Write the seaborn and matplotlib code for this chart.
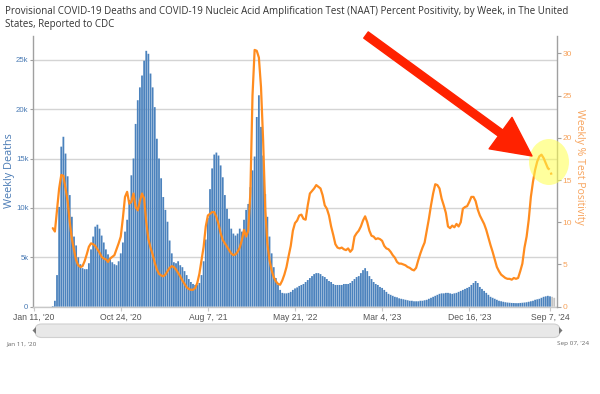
import numpy as np
import pandas as pd
import matplotlib
matplotlib.use("Agg")
import matplotlib.pyplot as plt
import seaborn as sns
from matplotlib.patches import FancyArrowPatch, Ellipse, FancyBboxPatch, Polygon
from matplotlib.transforms import IdentityTransform

# ---------------- data ----------------
start_date = pd.Timestamp("2020-01-11")

# weekly COVID-19 deaths (thousands), weeks from Jan 11 2020
weekly_deaths_k = [
    0, 0, 0, 0, 0, 0, 0, 0, 0, 0.06,
    0.6, 3.2, 10.1, 16.2, 17.2, 15.5, 13.2, 11.3, 9.1, 7.1,
    6.2, 5.0, 4.3, 3.9, 3.8, 3.8, 4.4, 5.8, 7.1, 8.1,
    8.3, 7.9, 7.2, 6.5, 5.8, 5.3, 4.9, 4.5, 4.3, 4.2,
    4.6, 5.4, 6.5, 7.6, 8.8, 10.8, 13.3, 15.0, 18.5, 20.9,
    22.2, 23.4, 24.9, 25.9, 25.6, 23.6, 22.2, 20.2, 17.0, 15.0,
    13.0, 11.1, 9.8, 8.6, 6.7, 5.4, 4.5, 4.4, 4.6, 4.2,
    4.0, 3.6, 3.2, 2.8, 2.5, 2.3, 2.2, 2.2, 2.4, 3.2,
    4.6, 6.8, 9.0, 11.9, 14.0, 15.4, 15.6, 15.3, 14.3, 13.1,
    11.3, 9.9, 8.9, 7.9, 7.4, 7.2, 7.4, 7.9, 7.6, 8.8,
    9.8, 10.4, 12.1, 13.8, 15.2, 19.2, 21.4, 18.2, 15.3, 11.4,
    9.1, 7.1, 5.4, 4.0, 2.9, 2.2, 1.7, 1.4, 1.35, 1.35,
    1.4, 1.5, 1.7, 1.85, 1.95, 2.1, 2.2, 2.3, 2.5, 2.7,
    2.9, 3.1, 3.3, 3.4, 3.4, 3.3, 3.1, 3.0, 2.8, 2.6,
    2.5, 2.3, 2.2, 2.2, 2.2, 2.2, 2.3, 2.3, 2.3, 2.4,
    2.6, 2.8, 3.0, 3.1, 3.4, 3.7, 3.9, 3.6, 3.1, 2.8,
    2.5, 2.3, 2.2, 2.0, 1.9, 1.7, 1.5, 1.3, 1.2, 1.1,
    1.0, 0.95, 0.85, 0.8, 0.75, 0.7, 0.65, 0.6, 0.6, 0.55,
    0.55, 0.55, 0.6, 0.6, 0.65, 0.7, 0.8, 0.9, 1.0, 1.1,
    1.2, 1.3, 1.35, 1.35, 1.4, 1.4, 1.35, 1.3, 1.35, 1.4,
    1.5, 1.6, 1.7, 1.8, 1.9, 2.0, 2.2, 2.4, 2.6, 2.4,
    2.0, 1.8, 1.6, 1.4, 1.2, 1.0, 0.9, 0.8, 0.7, 0.6,
    0.55, 0.5, 0.45, 0.42, 0.4, 0.38, 0.37, 0.36, 0.36, 0.38,
    0.4, 0.42, 0.45, 0.5, 0.55, 0.6, 0.7, 0.75, 0.8, 0.9,
    1.0, 1.05, 1.1, 1.05, 1.0, 0.9,
]
n_incomplete = 2  # last weeks shown in grey (incomplete)

# weekly NAAT % test positivity, starting at week index 9
positivity_start_week = 9
weekly_positivity = [
    9.3, 8.9, 11.5, 14.0, 15.6, 15.5, 14.0, 12.5, 10.0, 8.0,
    6.7, 5.5, 4.9, 4.7, 4.8, 5.4, 6.2, 7.1, 7.5, 7.4,
    7.2, 6.8, 6.4, 5.9, 5.7, 5.6, 5.3, 5.7, 5.9, 6.1,
    6.8, 7.5, 8.3, 10.5, 13.0, 13.6, 12.2, 12.4, 13.4, 11.8,
    11.4, 12.5, 13.4, 12.8, 10.0, 8.0, 7.0, 6.2, 5.2, 4.4,
    3.9, 3.7, 3.6, 3.8, 4.2, 4.6, 4.8, 4.7, 4.4, 4.0,
    3.6, 3.1, 2.7, 2.3, 2.1, 2.0, 2.0, 2.2, 2.8, 3.9,
    5.5, 7.1, 9.5, 10.8, 11.0, 11.2, 11.2, 10.6, 9.8, 8.7,
    7.9, 7.5, 7.1, 6.7, 6.3, 6.1, 6.2, 6.5, 7.0, 7.9,
    9.1, 8.3, 9.0, 13.5, 25.0, 30.4, 30.3, 29.5, 26.0, 19.7,
    11.5, 7.5, 5.5, 4.3, 3.5, 3.0, 2.7, 2.6, 3.1, 3.8,
    4.7, 6.0, 7.2, 9.0, 9.9, 10.2, 10.8, 10.9, 10.4, 10.3,
    12.0, 13.4, 13.7, 14.0, 14.4, 14.2, 14.0, 13.2, 12.0, 11.6,
    10.8, 9.5, 8.5, 7.4, 7.0, 6.9, 7.0, 6.8, 6.7, 6.9,
    6.5, 6.8, 8.3, 8.7, 9.0, 9.5, 10.2, 10.7, 10.0, 9.0,
    8.4, 8.3, 8.0, 8.1, 8.0, 7.8, 7.2, 6.9, 6.8, 6.5,
    6.1, 5.8, 5.3, 5.1, 5.1, 5.0, 4.9, 4.7, 4.6, 4.4,
    4.3, 4.6, 5.5, 6.3, 7.0, 7.6, 9.0, 10.4, 12.0, 13.4,
    14.5, 14.4, 14.0, 12.8, 12.0, 11.1, 9.5, 9.3, 9.6, 9.4,
    9.8, 9.5, 10.0, 11.6, 11.8, 11.9, 12.4, 13.0, 13.0, 12.5,
    11.5, 10.8, 10.3, 9.8, 9.1, 8.2, 7.3, 6.5, 5.6, 4.7,
    4.2, 3.8, 3.6, 3.4, 3.3, 3.3, 3.2, 3.4, 3.3, 3.4,
    4.2, 5.1, 7.0, 8.3, 10.3, 13.0, 14.8, 16.2, 17.2, 17.8,
    18.0, 17.6, 17.0, 16.4, 16.2, 15.4,
]
n_dotted = 2  # last segments dotted

tick_dates = ["2020-01-11", "2020-10-24", "2021-08-07", "2022-05-21",
              "2023-03-04", "2023-12-16", "2024-09-07"]
tick_labels = ["Jan 11, '20", "Oct 24, '20", "Aug 7, '21", "May 21, '22",
               "Mar 4, '23", "Dec 16, '23", "Sep 7, '24"]
left_ticks = [0, 5, 10, 15, 20, 25]
left_tick_labels = ["0", "5k", "10k", "15k", "20k", "25k"]
right_ticks = [0, 5, 10, 15, 20, 25, 30]

title = ("Provisional COVID-19 Deaths and COVID-19 Nucleic Acid Amplification Test (NAAT) "
         "Percent Positivity, by Week, in The United\nStates, Reported to CDC")

# ---------------- frames ----------------
n_w = len(weekly_deaths_k)
deaths_df = pd.DataFrame({
    "week": np.arange(n_w),
    "deaths": np.array(weekly_deaths_k) * 1000,
    "status": ["complete"] * (n_w - n_incomplete) + ["incomplete"] * n_incomplete,
})
pos_df = pd.DataFrame({
    "week": np.arange(len(weekly_positivity)) + positivity_start_week,
    "pos": weekly_positivity,
})
tick_weeks = [(pd.Timestamp(d) - start_date).days / 7 for d in tick_dates]

# ---------------- style ----------------
sns.set_theme(style="white")
plt.rcParams["font.family"] = ["Open Sans", "DejaVu Sans"]

BLUE = "#4b82bd"
BLUE_TXT = "#4a7bb5"
ORANGE = "#ff8c1f"
ORANGE_TXT = "#f7a35c"
GREY_AX = "#a0a0a0"
TICK_FONT = "Liberation Sans"

W, H = 600, 394
fig = plt.figure(figsize=(W / 100, H / 100), dpi=100)
fig.patch.set_facecolor("white")

ax_l, ax_r, ax_t, ax_b = 33, 557, 36, 306.7
ax = fig.add_axes([ax_l / W, 1 - ax_b / H, (ax_r - ax_l) / W, (ax_b - ax_t) / H])
ax.set_facecolor("white")

sns.barplot(data=deaths_df, x="week", y="deaths", hue="status",
            palette={"complete": BLUE, "incomplete": "#c4c4c4"},
            native_scale=True, dodge=False, legend=False, width=0.84,
            saturation=1, errorbar=None, edgecolor="none", linewidth=0, ax=ax)
for p in ax.patches:
    p.set_snap(False)

ax.set_xlim(-0.3, 246.3)
ax.set_ylim(0, 27400)
ax.set_yticks([v * 1000 for v in left_ticks])
ax.set_yticklabels(left_tick_labels, fontfamily=TICK_FONT)
ax.set_xticks(tick_weeks)
ax.set_xticklabels(tick_labels, fontfamily=TICK_FONT)
ax.set_xlabel("")
ax.set_ylabel("")
ax.yaxis.grid(True, color="#d4d4d4", linewidth=1.0)
ax.xaxis.grid(False)
ax.set_axisbelow(True)
for s in ["top", "right"]:
    ax.spines[s].set_visible(False)
ax.spines["left"].set_color(GREY_AX)
ax.spines["left"].set_linewidth(1.0)
ax.spines["bottom"].set_color("#c8c8c8")
ax.spines["bottom"].set_linewidth(1.0)
ax.tick_params(axis="y", colors=GREY_AX, labelcolor=BLUE_TXT, labelsize=5.6,
               length=2.5, width=0.8, pad=0.8, direction="out", left=True)
ax.tick_params(axis="x", colors="#c8c8c8", labelcolor="#555555", labelsize=6.2,
               length=3, width=0.8, pad=1.5, bottom=True)

ax2 = ax.twinx()
main = pos_df.iloc[: len(pos_df) - n_dotted]
tail = pos_df.iloc[len(pos_df) - n_dotted - 1:]
sns.lineplot(data=main, x="week", y="pos", ax=ax2, color=ORANGE, linewidth=1.6)
sns.lineplot(data=tail, x="week", y="pos", ax=ax2, color=ORANGE, linewidth=1.6,
             linestyle=(0, (1, 1.5)))
ax2.set_ylim(0, 32.05)
ax2.set_yticks(right_ticks)
ax2.set_yticklabels([str(v) for v in right_ticks], fontfamily=TICK_FONT)
ax2.set_ylabel("")
ax2.set_xlabel("")
ax2.grid(False)
for s in ["top", "left", "bottom"]:
    ax2.spines[s].set_visible(False)
ax2.spines["right"].set_color(GREY_AX)
ax2.spines["right"].set_linewidth(1.0)
ax2.tick_params(axis="y", colors=GREY_AX, labelcolor=ORANGE_TXT, labelsize=6.0,
                length=3, width=0.8, pad=1, direction="out", right=True)
ax.set_xlim(-0.3, 246.3)

# ---------------- texts ----------------
fig.text(5 / W, 1 - 6 / H, title, ha="left", va="top", fontsize=7.05,
         color="#333333", linespacing=1.3)
fig.text(9.5 / W, 1 - 171 / H, "Weekly Deaths", rotation=90, ha="center", va="center",
         fontsize=7.8, color=BLUE_TXT)
fig.text(579 / W, 1 - 167 / H, "Weekly % Test Positivity", rotation=270, ha="center",
         va="center", fontsize=7.6, color=ORANGE_TXT)

# ---------------- range slider ----------------
ident = IdentityTransform()
slider = FancyBboxPatch((35, H - 337.5), 525, 13.5,
                        boxstyle="round,pad=0,rounding_size=6.5",
                        facecolor="#e8e8e8", edgecolor="#d0d0d0", linewidth=0.8,
                        transform=ident)
fig.add_artist(slider)
fig.add_artist(Polygon([[36, H - 327], [36, H - 334], [32.5, H - 330.5]], closed=True,
                       facecolor="#777777", edgecolor="none", transform=ident))
fig.add_artist(Polygon([[559, H - 327], [559, H - 334], [562.5, H - 330.5]], closed=True,
                       facecolor="#777777", edgecolor="none", transform=ident))
fig.text(6 / W, 1 - 344 / H, "Jan 11, '20", ha="left", va="center", fontsize=4.6,
         color="#666666")
fig.text(589 / W, 1 - 344 / H, "Sep 07, '24", ha="right", va="center", fontsize=4.6,
         color="#666666")

# ---------------- annotation ----------------
glow = Ellipse((549, H - 162), 40, 46, facecolor="#ffff4d", edgecolor="none",
               alpha=0.55, transform=ident)
fig.add_artist(glow)
arrow = FancyArrowPatch((366, H - 35), (532, H - 156),
                        arrowstyle="simple,head_length=28,head_width=28,tail_width=5.5",
                        mutation_scale=1, color="#ff2200", shrinkA=0, shrinkB=0,
                        transform=ident)
fig.add_artist(arrow)

fig.savefig("out.png", dpi=100, facecolor="white")
